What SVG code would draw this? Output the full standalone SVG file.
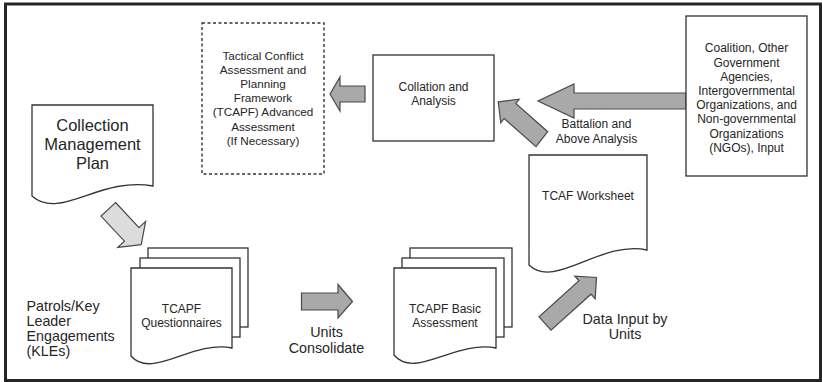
<svg xmlns="http://www.w3.org/2000/svg" width="822" height="382" viewBox="0 0 822 382">
<style>
  .box { fill: #ffffff; stroke: #333333; stroke-width: 1.3; }
  .dash { fill: #ffffff; stroke: #333333; stroke-width: 1.4; stroke-dasharray: 3 2.5; }
  .arrow { fill: #a9a9a9; stroke: #4a4a4a; stroke-width: 1.2; stroke-linejoin: miter; }
  .arrow-light { fill: #dcdcdc; stroke: #4a4a4a; stroke-width: 1.2; }
  .t { font-family: "Liberation Sans", Arial, sans-serif; fill: #262626; text-anchor: middle; }
  .s12 { font-size: 12px; }
  .s117 { font-size: 11.7px; }
  .s14 { font-size: 14.3px; }
  .s16 { font-size: 16.5px; }
  .left { text-anchor: start; }
</style>
<rect x="0" y="0" width="822" height="382" fill="#ffffff"/>
<rect x="5.5" y="4" width="815" height="376.5" fill="none" stroke="#262626" stroke-width="3"/>

<g id="connectors">
  <polygon class="arrow" points="365,86 340,86 340,77 330,94 340,111 340,102 365,102"/>
  <polygon class="arrow" points="686,93 574,93 574,84 538,101 574,118 574,109 686,109"/>
  <polygon class="arrow" points="498.2,101.8 519.2,99.2 515.8,103.5 547.7,131.7 536,146.7 504.2,118.5 500.8,122.8"/>
  <polygon class="arrow" points="596.5,277.5 595.2,298.8 591,294.2 551,330.2 539,316.8 579,280.8 574.8,276.2"/>
  <polygon class="arrow" points="301.5,293 338,293 338,284.5 352.5,301.5 338,318 338,310 301.5,310"/>
  <polygon class="arrow-light" points="115.6,202.5 139,227.6 145.6,221.4 141.2,244.6 117.8,247.4 124.4,241.2 101,216.1"/>
</g>

<g id="collection-plan">
  <path class="box" d="M32,105 H153 V186 C100,176 60,221 32,196 Z"/>
  <text class="t s16" x="92.5" y="131">Collection</text>
  <text class="t s16" x="92.5" y="150">Management</text>
  <text class="t s16" x="92.5" y="169">Plan</text>
</g>

<g id="tcapf-advanced">
  <rect class="dash" x="202" y="23" width="122" height="151"/>
  <text class="t s117" x="263" y="59.5">Tactical Conflict</text>
  <text class="t s117" x="263" y="73.7">Assessment and</text>
  <text class="t s117" x="263" y="87.9">Planning</text>
  <text class="t s117" x="263" y="102.1">Framework</text>
  <text class="t s117" x="263" y="116.3">(TCAPF) Advanced</text>
  <text class="t s117" x="263" y="130.5">Assessment</text>
  <text class="t s117" x="263" y="144.7">(If Necessary)</text>
</g>

<g id="collation">
  <rect class="box" x="373" y="55" width="121" height="86"/>
  <text class="t s12" x="433.5" y="91">Collation and</text>
  <text class="t s12" x="433.5" y="105">Analysis</text>
</g>

<g id="coalition">
  <rect class="box" x="686" y="16" width="121" height="160"/>
  <text class="t s12" x="746.5" y="52.3">Coalition, Other</text>
  <text class="t s12" x="746.5" y="66.5">Government</text>
  <text class="t s12" x="746.5" y="80.7">Agencies,</text>
  <text class="t s12" x="746.5" y="94.9">Intergovernmental</text>
  <text class="t s12" x="746.5" y="109.1">Organizations, and</text>
  <text class="t s12" x="746.5" y="123.3">Non-governmental</text>
  <text class="t s12" x="746.5" y="137.5">Organizations</text>
  <text class="t s12" x="746.5" y="151.7">(NGOs), Input</text>
</g>

<g id="battalion-label">
  <text class="t s12" x="596.5" y="128.3">Battalion and</text>
  <text class="t s12" x="596.5" y="142.7">Above Analysis</text>
</g>

<g id="tcaf-worksheet">
  <path class="box" d="M529,155 H647 V250 C600,240 555,290 529,265 Z"/>
  <text class="t s12" x="588" y="200">TCAF Worksheet</text>
</g>

<g id="tcapf-questionnaires">
  <rect class="box" x="148" y="248" width="100" height="79"/>
  <rect class="box" x="140" y="258" width="100" height="79"/>
  <path class="box" d="M131,268 H232 V348 C192,340 152,380 131,356 Z"/>
  <text class="t s12" x="181.5" y="313">TCAPF</text>
  <text class="t s12" x="181.5" y="327">Questionnaires</text>
</g>

<g id="tcapf-basic">
  <rect class="box" x="410" y="248" width="102" height="79"/>
  <rect class="box" x="402" y="258" width="102" height="79"/>
  <path class="box" d="M394,268 H496 V348 C455,340 415,380 394,355 Z"/>
  <text class="t s12" x="445" y="312.7">TCAPF Basic</text>
  <text class="t s12" x="445" y="326.7">Assessment</text>
</g>

<g id="patrols-label">
  <text class="t s14 left" x="26.5" y="310.5">Patrols/Key</text>
  <text class="t s14 left" x="26.5" y="325.8">Leader</text>
  <text class="t s14 left" x="26.5" y="341.1">Engagements</text>
  <text class="t s14 left" x="26.5" y="356.4">(KLEs)</text>
</g>

<g id="units-consolidate-label">
  <text class="t s14" x="326.5" y="337.3">Units</text>
  <text class="t s14" x="326.5" y="352.7">Consolidate</text>
</g>

<g id="data-input-label">
  <text class="t s14" x="625" y="323.7">Data Input by</text>
  <text class="t s14" x="625" y="339.3">Units</text>
</g>
</svg>
